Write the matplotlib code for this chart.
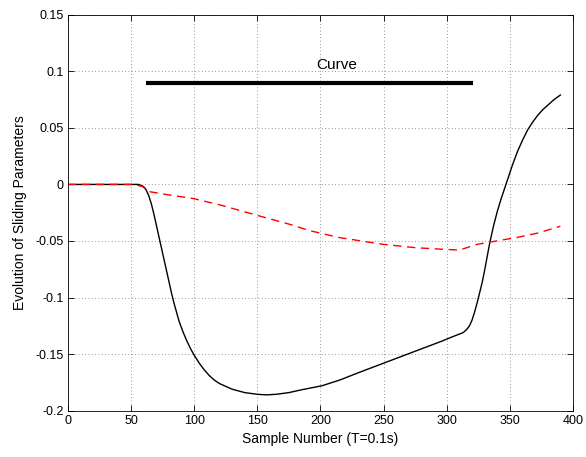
import matplotlib
matplotlib.use("Agg")
import matplotlib.pyplot as plt

plt.rcParams['font.family'] = ['Liberation Sans', 'DejaVu Sans']
plt.rcParams['axes.unicode_minus'] = False

# Black solid curve
black_x = [0, 50, 56, 58, 60, 62, 64, 66, 68, 70, 72, 74, 76, 78, 80, 82, 84, 86, 88, 91, 94,
           97, 100, 104, 108, 112, 116, 120, 130, 140, 150, 157, 165, 175, 185, 201, 215, 231,
           250, 276, 295, 306, 313, 316, 318, 320, 322, 324, 326, 328, 330, 332, 334, 337, 340,
           343, 346, 349, 352, 356, 360, 364, 368, 372, 376, 380, 385, 390]
black_y = [0, 0, 0, -0.001, -0.002, -0.005, -0.010, -0.017, -0.026, -0.036, -0.046, -0.056,
           -0.066, -0.076, -0.086, -0.096, -0.105, -0.113, -0.121, -0.130, -0.138,
           -0.145, -0.151, -0.158, -0.164, -0.169, -0.173, -0.176, -0.181, -0.184, -0.1855,
           -0.186, -0.1855, -0.184, -0.1815, -0.178, -0.173, -0.166,
           -0.158, -0.147, -0.139, -0.134, -0.131, -0.128, -0.125, -0.120, -0.113, -0.105,
           -0.096, -0.087, -0.076, -0.064, -0.052, -0.037, -0.024,
           -0.013, -0.003, 0.007, 0.017, 0.029, 0.039, 0.048, 0.055, 0.061, 0.066, 0.070,
           0.075, 0.079]

# Red dashed curve
red_x = [0, 52, 56, 59, 65, 81, 99, 120, 136, 152, 165, 178, 186, 192, 215, 250, 276, 300,
         310, 324, 334, 355, 372, 390]
red_y = [0, 0, -0.001, -0.002, -0.0065, -0.0095, -0.0124, -0.018, -0.023, -0.028, -0.032,
         -0.036, -0.039, -0.041, -0.047, -0.053, -0.056, -0.0575, -0.058, -0.053, -0.051,
         -0.047, -0.043, -0.037]

# Thick "Curve" bar
bar_x = [62, 321]
bar_y = [0.09, 0.09]
bar_label = "Curve"
bar_label_pos = (213, 0.1055)

x_ticks = [0, 50, 100, 150, 200, 250, 300, 350, 400]
y_ticks = [0.15, 0.1, 0.05, 0, -0.05, -0.1, -0.15, -0.2]
y_tick_labels = ["0.15", "0.1", "0.05", "0", "-0.05", "-0.1", "-0.15", "-0.2"]

fig = plt.figure(figsize=(5.86, 4.57), dpi=100)
ax = fig.add_axes([0.116, 0.1013, 0.9778 - 0.116, 0.9678 - 0.1013])

ax.plot(black_x, black_y, color='k', lw=1.0)
ax.plot(red_x, red_y, color='r', lw=1.0, linestyle=(0, (6, 4)))
ax.plot(bar_x, bar_y, color='k', lw=3.0, solid_capstyle='butt')
ax.text(bar_label_pos[0], bar_label_pos[1], bar_label, ha='center', va='center', fontsize=11)

ax.set_xlim(0, 400)
ax.set_ylim(-0.2, 0.15)
ax.set_xticks(x_ticks)
ax.set_xticklabels([str(t) for t in x_ticks])
ax.set_yticks(y_ticks)
ax.set_yticklabels(y_tick_labels)
ax.tick_params(direction='in', top=True, right=True, length=4, width=0.6, labelsize=9, pad=3)
ax.grid(True, linestyle=(0, (1, 3)), color='0.45', lw=0.6)
for s in ax.spines.values():
    s.set_linewidth(0.6)

ax.set_xlabel("Sample Number (T=0.1s)", fontsize=10, labelpad=4)
ax.set_ylabel("Evolution of Sliding Parameters", fontsize=10, labelpad=6)

fig.savefig("out.png", dpi=100)
